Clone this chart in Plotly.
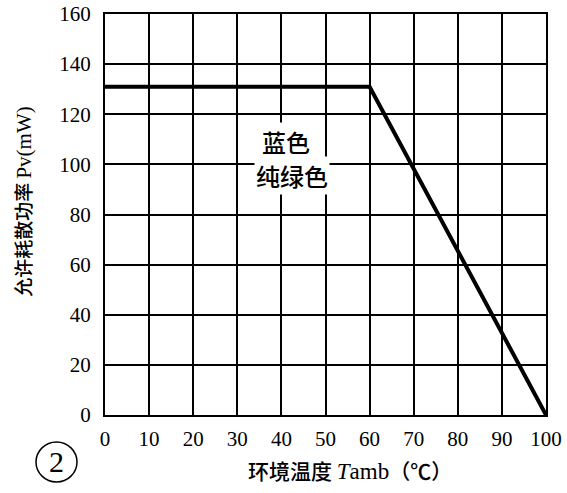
import plotly.graph_objects as go

# derating curve: allowable dissipation vs ambient temperature
temp_c = [0, 60, 100]
power_mw = [131, 131, 0]

x_ticks = list(range(0, 101, 10))
y_ticks = list(range(0, 161, 20))

serif = "Liberation Serif"
cjk = "Noto Sans CJK SC"

fig = go.Figure()
fig.add_trace(go.Scatter(
    x=temp_c, y=power_mw, mode="lines",
    line=dict(color="black", width=4),
    showlegend=False, hoverinfo="skip",
))

axis_common = dict(
    showgrid=True, gridcolor="black", gridwidth=2,
    showline=True, linecolor="black", linewidth=2, mirror=True,
    zeroline=False, ticks="", automargin=False,
    tickfont=dict(family=serif, size=21, color="black"),
)
fig.update_xaxes(range=[0, 100], tickvals=x_ticks, ticklabelstandoff=4, **axis_common)
fig.update_yaxes(range=[0, 160], tickvals=y_ticks, ticklabelstandoff=8, **axis_common)

# labels inside the plot
fig.add_annotation(x=41, y=109, xref="x", yref="y", text="蓝色", showarrow=False,
                   font=dict(family=cjk, size=24, color="black", weight=500), bgcolor="white")
fig.add_annotation(x=42.5, y=95.5, xref="x", yref="y", text="纯绿色", showarrow=False,
                   font=dict(family=cjk, size=24, color="black", weight=500), bgcolor="white")

# axis titles
fig.add_annotation(
    x=-0.222, y=0.533, xref="paper", yref="paper", textangle=-90, showarrow=False,
    text='允许耗散功率 <span style="font-family:Liberation Serif;font-size:21px">Pv(mW)</span>',
    font=dict(family=cjk, size=19, color="black", weight=500),
)
fig.add_annotation(
    x=0.556, y=-0.18, xref="paper", yref="paper", showarrow=False,
    text=('环境温度 <span style="font-family:Liberation Serif;font-size:23px;font-weight:normal">'
          '<i>T</i>amb</span>（℃）'),
    font=dict(family=cjk, size=21, color="black", weight=500),
)

# circled number 2
fig.add_shape(type="circle", xref="paper", yref="paper",
              x0=(36 - 105) / 441, x1=(77 - 105) / 441,
              y0=(415 - 482) / 401, y1=(415 - 442) / 401,
              line=dict(color="black", width=1.5))
fig.add_annotation(
    x=(56.5 - 105) / 441, y=(415 - 462) / 401, xref="paper", yref="paper",
    xanchor="center", yanchor="middle",
    showarrow=False, text="2", font=dict(family=serif, size=30, color="black"),
)

fig.update_layout(
    width=567, height=493,
    margin=dict(l=105, r=21, t=14, b=78),
    paper_bgcolor="white", plot_bgcolor="white",
)

fig.write_html("out.html", config={"displayModeBar": False},
               post_script="document.body.style.margin='0';")
